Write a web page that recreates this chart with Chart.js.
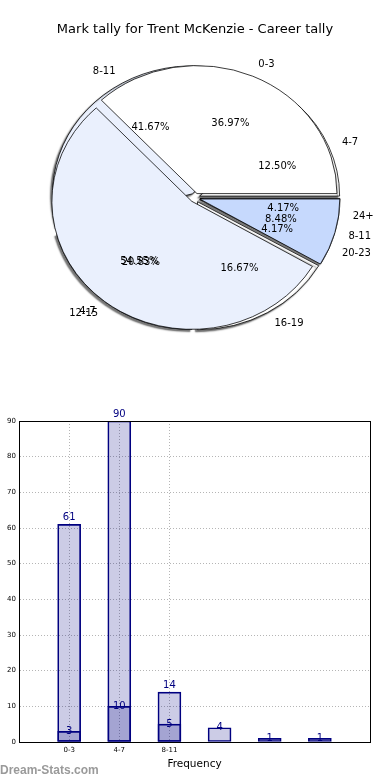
<!DOCTYPE html>
<html>
<head>
<meta charset="utf-8">
<script src="https://cdn.jsdelivr.net/npm/chart.js@4.4.1/dist/chart.umd.min.js"></script>
<style>
html, body { margin: 0; padding: 0; background: #fff; }
#wrap { position: relative; width: 390px; height: 780px; overflow: hidden; }
#pieBox { position: absolute; left: 0; top: 0; width: 390px; height: 390px; }
#barBox { position: absolute; left: 0; top: 390px; width: 390px; height: 390px; }
#mark { position: absolute; left: 0; top: 764px; font: bold 12px "Liberation Sans", Arial, sans-serif; line-height: 12px; color: #9a9a9a; }
</style>
</head>
<body>
<div id="wrap">
  <div id="pieBox"><canvas id="pieChart"></canvas></div>
  <div id="barBox"><canvas id="barChart"></canvas></div>
  <div id="mark">Dream-Stats.com</div>
</div>
<script>
const chartTitle = 'Mark tally for Trent McKenzie - Career tally';

// career tally (light series)
const careerLabels = ['0-3', '4-7', '8-11'];
const careerCounts = [61, 90, 14];

// second tally (drawn under the first pie, overlaid on the bars)
const otherLabels = ['4-7', '8-11', '12-15', '16-19', '20-23', '24+'];
const otherCounts = [3, 10, 5, 4, 1, 1];

// axis ticks of the bar chart
const barTickLabels = ['0-3', '4-7', '8-11'];
const yTicks = [0, 10, 20, 30, 40, 50, 60, 70, 80, 90];

const pieColors = ['#ffffff', '#eaf0fd', '#c6d9fd'];
const navy = '#000080';
const barFill = 'rgba(0,0,128,0.2)';

const R = 140;        // pie radius (x)
const RY = 128;       // pie radius (y), the pie is a bit squashed
const EXPLODE = 5;

// matplotlib goes counter-clockwise from 3 o'clock, chart.js clockwise -> reverse
const rev = a => a.slice().reverse();

const pieCenter = chart => {
    const a = chart.chartArea;
    return [(a.left + a.right) / 2, (a.top + a.bottom) / 2];
};

const mplPie = {
    id: 'mplPie',
    afterDatasetsUpdate(chart) {
        const [cx, cy] = pieCenter(chart);
        chart.data.datasets.forEach((ds, i) => {
            chart.getDatasetMeta(i).data.forEach(arc => {
                const mid = (arc.startAngle + arc.endAngle) / 2;
                // both pies full size and exploded, on top of each other
                arc.x = cx + Math.cos(mid) * EXPLODE;
                arc.y = cy + Math.sin(mid) * EXPLODE;
                arc.innerRadius = 0;
                arc.outerRadius = R;
            });
        });
    },
    beforeDatasetsDraw(chart) {
        const [cx, cy] = pieCenter(chart);
        const ctx = chart.ctx;
        ctx.save();
        ctx.translate(cx, cy);
        ctx.scale(1, RY / R);
        ctx.translate(-cx, -cy);
    },
    afterDatasetsDraw(chart) {
        chart.ctx.restore();
    },
    beforeDatasetDraw(chart, args) {
        if (args.index !== 1) return;
        const ctx = chart.ctx;
        ctx.save();
        ctx.shadowColor = 'rgba(0,0,0,0.55)';
        ctx.shadowOffsetX = -2;
        ctx.shadowOffsetY = 2;
        ctx.shadowBlur = 1.5;
    },
    afterDatasetDraw(chart, args) {
        if (args.index === 1) chart.ctx.restore();
    },
    afterDraw(chart) {
        const [cx, cy] = pieCenter(chart);
        const ctx = chart.ctx;
        const k = RY / R;
        ctx.save();
        ctx.font = '10px "DejaVu Sans"';
        ctx.fillStyle = '#000';
        ctx.textBaseline = 'middle';
        chart.data.datasets.forEach((ds, i) => {
            const total = ds.data.reduce((s, v) => s + v, 0);
            chart.getDatasetMeta(i).data.forEach((arc, j) => {
                const mid = (arc.startAngle + arc.endAngle) / 2;
                const c = Math.cos(mid), s = Math.sin(mid);
                const ox = arc.x - cx, oy = arc.y - cy;
                ctx.textAlign = c > 0 ? 'left' : 'right';
                ctx.fillText(ds.labels[j], cx + ox + c * R * 1.1, cy + (oy + s * R * 1.1) * k);
                ctx.textAlign = 'center';
                ctx.fillText((ds.data[j] / total * 100).toFixed(2) + '%', cx + ox + c * R * 0.6, cy + (oy + s * R * 0.6) * k);
            });
        });
        ctx.restore();
    }
};

new Chart(document.getElementById('pieChart'), {
    type: 'pie',
    data: {
        labels: rev(otherLabels),
        datasets: [{
            data: rev(careerCounts),
            labels: rev(careerLabels),
            backgroundColor: rev(pieColors),
            borderColor: '#000',
            borderWidth: 0.8
        }, {
            data: rev(otherCounts),
            labels: rev(otherLabels),
            backgroundColor: rev(otherCounts.map((v, i) => pieColors[i % 3])),
            borderColor: '#000',
            borderWidth: 0.8
        }]
    },
    options: {
        animation: false,
        responsive: true,
        maintainAspectRatio: false,
        events: [],
        rotation: 90,
        layout: { padding: { left: 45, right: 45, top: 0, bottom: 42 } },
        plugins: {
            legend: { display: false },
            tooltip: { enabled: false },
            title: {
                display: true,
                text: chartTitle,
                color: '#000',
                font: { family: 'DejaVu Sans', size: 13, weight: 'normal' },
                padding: { top: 22, bottom: 10 }
            }
        }
    },
    plugins: [mplPie]
});

const barExtras = {
    id: 'barExtras',
    afterDatasetsDraw(chart) {
        const ctx = chart.ctx;
        ctx.save();
        ctx.font = '10px "DejaVu Sans"';
        ctx.fillStyle = navy;
        ctx.textAlign = 'center';
        chart.data.datasets.forEach((ds, i) => {
            ctx.textBaseline = i === 0 ? 'bottom' : 'middle';
            chart.getDatasetMeta(i).data.forEach((bar, j) => {
                ctx.fillText(String(ds.data[j].y), bar.x, i === 0 ? bar.y - 2 : bar.y);
            });
        });
        ctx.restore();
    },
    afterDraw(chart) {
        const a = chart.chartArea;
        const ctx = chart.ctx;
        ctx.save();
        ctx.strokeStyle = '#000';
        ctx.lineWidth = 1;
        ctx.strokeRect(Math.round(a.left) + 0.5, Math.round(a.top) + 0.5, Math.round(a.right - a.left), Math.round(a.bottom - a.top));
        ctx.restore();
    }
};

new Chart(document.getElementById('barChart'), {
    type: 'bar',
    data: {
        datasets: [{
            data: careerCounts.map((v, i) => ({ x: i, y: v })),
            backgroundColor: barFill,
            borderColor: navy
        }, {
            data: otherCounts.map((v, i) => ({ x: i, y: v })),
            backgroundColor: barFill,
            borderColor: navy
        }]
    },
    options: {
        animation: false,
        responsive: true,
        maintainAspectRatio: false,
        events: [],
        layout: { padding: { top: 31, right: 20, bottom: 9, left: 0 } },
        datasets: {
            bar: {
                grouped: false,
                barThickness: 23,
                borderWidth: 1,
                borderSkipped: false
            }
        },
        plugins: {
            legend: { display: false },
            tooltip: { enabled: false }
        },
        scales: {
            x: {
                type: 'linear',
                min: -1,
                max: 6,
                offset: false,
                afterBuildTicks: s => { s.ticks = barTickLabels.map((_, i) => ({ value: i })); },
                ticks: {
                    callback: v => barTickLabels[v],
                    font: { family: 'DejaVu Sans', size: 7 },
                    color: '#000',
                    padding: 4,
                    maxRotation: 0,
                    autoSkip: false
                },
                grid: { color: '#b5b5b5', drawTicks: false, offset: false },
                border: { color: '#000', dash: [1, 2] },
                title: {
                    display: true,
                    text: 'Frequency',
                    color: '#000',
                    font: { family: 'DejaVu Sans', size: 10.5 },
                    padding: { top: 0, bottom: 0 }
                }
            },
            y: {
                min: 0,
                max: 90,
                afterBuildTicks: s => { s.ticks = yTicks.map(v => ({ value: v })); },
                afterFit: s => { s.width = 19; },
                ticks: {
                    font: { family: 'DejaVu Sans', size: 7 },
                    color: '#000',
                    padding: 3
                },
                grid: { color: '#b5b5b5', drawTicks: false },
                border: { color: '#000', dash: [1, 2] }
            }
        }
    },
    plugins: [barExtras]
});
</script>
</body>
</html>
